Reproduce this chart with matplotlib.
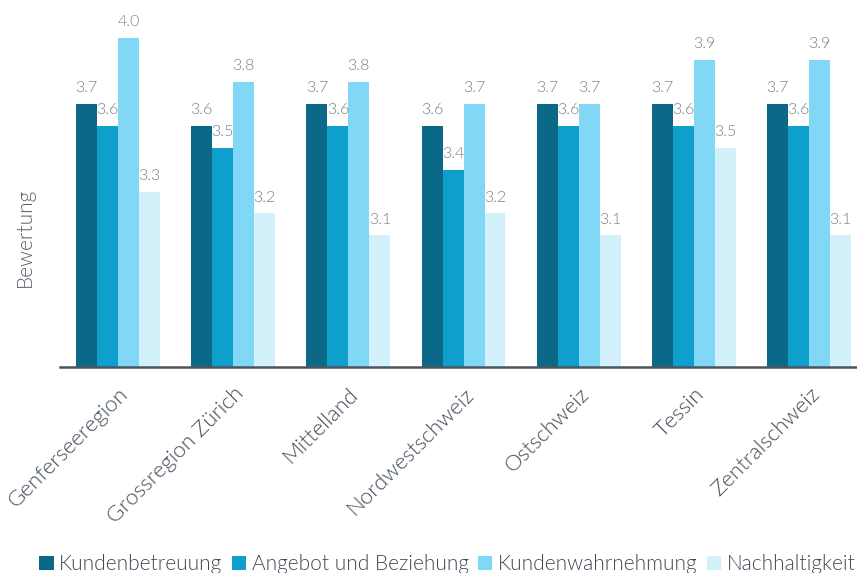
import numpy as np
import matplotlib
matplotlib.use("Agg")
import matplotlib.pyplot as plt
from matplotlib import font_manager as fm

regions = ["Genferseeregion", "Grossregion Zürich", "Mittelland", "Nordwestschweiz",
           "Ostschweiz", "Tessin", "Zentralschweiz"]
series = ["Kundenbetreuung", "Angebot und Beziehung", "Kundenwahrnehmung", "Nachhaltigkeit"]
kundenbetreuung = [3.7, 3.6, 3.7, 3.6, 3.7, 3.7, 3.7]
angebot = [3.6, 3.5, 3.6, 3.4, 3.6, 3.6, 3.6]
wahrnehmung = [4.0, 3.8, 3.8, 3.7, 3.7, 3.9, 3.9]
nachhaltigkeit = [3.3, 3.2, 3.1, 3.2, 3.1, 3.5, 3.1]
colors = ["#0b6886", "#0e9fcd", "#80d8f6", "#d3f1fb"]

# Lato Light, loaded by file so the hairline cut is not picked instead
light = [f.fname for f in fm.fontManager.ttflist if f.fname.endswith("Lato-Light.ttf")]
if light:
    def fp(size):
        return fm.FontProperties(fname=light[0], size=size)
else:
    def fp(size):
        return fm.FontProperties(family="Lato", size=size)

fig = plt.figure(figsize=(8.57, 5.73), dpi=100)
ax = fig.add_axes([0.07, 0.3595, 0.93, 0.5742])

x = np.arange(len(regions))
w = 0.182
data = [kundenbetreuung, angebot, wahrnehmung, nachhaltigkeit]
for i, (vals, col, name) in enumerate(zip(data, colors, series)):
    pos = x + (i - 1.5) * w
    ax.bar(pos, np.array(vals) - 2.5, bottom=2.5, width=w, color=col, label=name)
    for p, v in zip(pos, vals):
        ax.text(p, v + 0.04, f"{v:.1f}", ha='center', va='bottom',
                fontproperties=fp(11.5), color='#7a8087')

ax.set_ylim(2.5, 4.0)
ax.set_xlim(-0.503, 6.415)
ax.set_yticks([])
ax.set_xticks(x)
ax.set_xticklabels(regions, rotation=45, ha='right', rotation_mode='anchor',
                   fontproperties=fp(16), color='#3f4a55')
ax.tick_params(axis='x', length=0, pad=12)
for s in ['top', 'right', 'left']:
    ax.spines[s].set_visible(False)
ax.spines['bottom'].set_color('#4a5560')
ax.spines['bottom'].set_linewidth(1.8)
ax.set_ylabel("Bewertung", fontproperties=fp(15), color='#5a6168')
ax.yaxis.set_label_coords(-0.032, 0.395)

leg = fig.legend(loc='lower center', bbox_to_anchor=(0.522, -0.035), ncol=4, frameon=False,
                 prop=fp(15), handlelength=0.7, handleheight=0.7, handletextpad=0.25,
                 columnspacing=0.45)
for t in leg.get_texts():
    t.set_color('#3f4a55')

fig.savefig("out.png", dpi=100)
